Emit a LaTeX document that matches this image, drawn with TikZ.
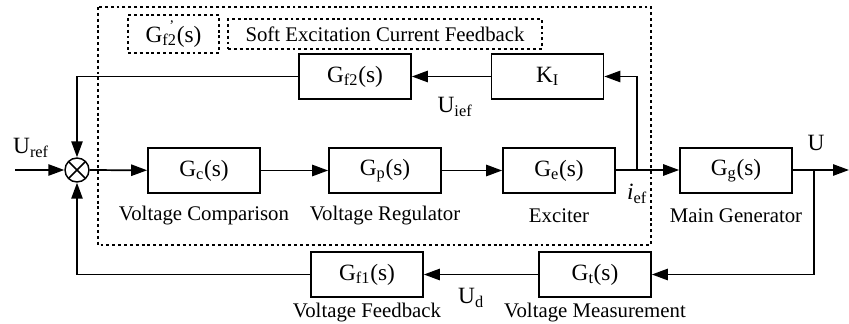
\documentclass[tikz,border=0pt]{standalone}
\usepackage{fontspec}
\setmainfont{Liberation Serif}
\usepackage{tikz}
\usetikzlibrary{arrows.meta}

\tikzset{
  block/.style={draw, line width=1.3pt, minimum width=84pt, minimum height=33.75pt,
    inner sep=0pt, font=\fontsize{17.5}{20}\selectfont},
  lbl/.style={font=\fontsize{15.6}{18}\selectfont, inner sep=0pt},
  sig/.style={font=\fontsize{17.5}{20}\selectfont, inner sep=0pt},
  wire/.style={line width=1.3pt},
  arr/.style={wire, -{Triangle[length=12pt, width=8.5pt]}},
  dotline/.style={line width=1.4pt, dash pattern=on 2.2pt off 2.2pt}
}

\begin{document}
\begin{tikzpicture}[x=0.75pt, y=-0.75pt]
\useasboundingbox (0,0) rectangle (849,324);
% soft excitation current feedback frame
\draw[dotline] (98,7) rectangle (651,245);
\node[dotline, draw, minimum width=68.25pt, minimum height=28.5pt, inner sep=0pt,
  font=\fontsize{17.5}{20}\selectfont] (gf2p) at (173.5,34)
  {G\rlap{\hspace{0.3em}\raisebox{1.05ex}{\fontsize{11}{11}\selectfont'}}\textsubscript{f2}(s)};
\node[dotline, draw, minimum width=235.5pt, minimum height=22.5pt, inner sep=0pt,
  font=\fontsize{15.6}{18}\selectfont] (sefb) at (385,34)
  {Soft Excitation Current Feedback};

% forward path
\node[circle, draw, line width=1.1pt, minimum size=18pt, inner sep=0pt,
  path picture={\draw[line width=1.1pt]
    (path picture bounding box.north west) -- (path picture bounding box.south east)
    (path picture bounding box.north east) -- (path picture bounding box.south west);}]
  (sum) at (77,170) {};
\node[block] (gc) at (204,170.5) {G\textsubscript{c}(s)};
\node[block] (gp) at (385,170.5) {G\textsubscript{p}(s)};
\node[block] (ge) at (559,170.5) {G\textsubscript{e}(s)};
\node[block] (gg) at (736,170.5) {G\textsubscript{g}(s)};

% feedback blocks
\node[block] (gf2) at (355,76.5) {G\textsubscript{f2}(s)};
\node[block] (ki) at (547.5,76.5) {K\textsubscript{I}};
\node[block] (gt) at (595,274.5) {G\textsubscript{t}(s)};
\node[block] (gf1) at (367,274.5) {G\textsubscript{f1}(s)};

% captions
\node[lbl] (lgc) at (204,216) {Voltage Comparison};
\node[lbl] (lgp) at (385,216) {Voltage Regulator};
\node[lbl] (lge) at (559,216) {Exciter};
\node[lbl] (lgg) at (736,216) {Main Generator};
\node[lbl] (lgf1) at (367,313) {Voltage Feedback};
\node[lbl] (lgt) at (595,313) {Voltage Measurement};

% signal names
\node[sig] (uref) at (31,148) {U\textsubscript{ref}};
\node[sig] (uief) at (455,107) {U\textsubscript{ief}};
\node[sig] (uout) at (816,143) {U};
\node[sig] (ud) at (471,298) {U\textsubscript{d}};
\node[sig] (ief) at (637,194) {\textit{i}\textsubscript{ef}};

\coordinate (inpt) at (15,170);
\coordinate (iefjn) at (637,170);
\coordinate (outjn) at (814,170);
\coordinate (outend) at (849,170);

\draw[arr] (inpt) -- (sum);
\draw[arr] (sum) -- (gc);
\draw[arr] (gc) -- (gp);
\draw[arr] (gp) -- (ge);
\draw[arr] (ge.east |- iefjn) -- (gg.west |- iefjn);
\draw[arr] (gg.east |- outjn) -- (outend);
\draw[arr] (outjn) |- (gt);
\draw[arr] (gt) -- (gf1);
\draw[arr] (gf1) -| (sum);
\draw[arr] (iefjn) |- (ki);
\draw[arr] (ki) -- (gf2);
\draw[arr] (gf2) -| (sum);
\end{tikzpicture}
\end{document}
